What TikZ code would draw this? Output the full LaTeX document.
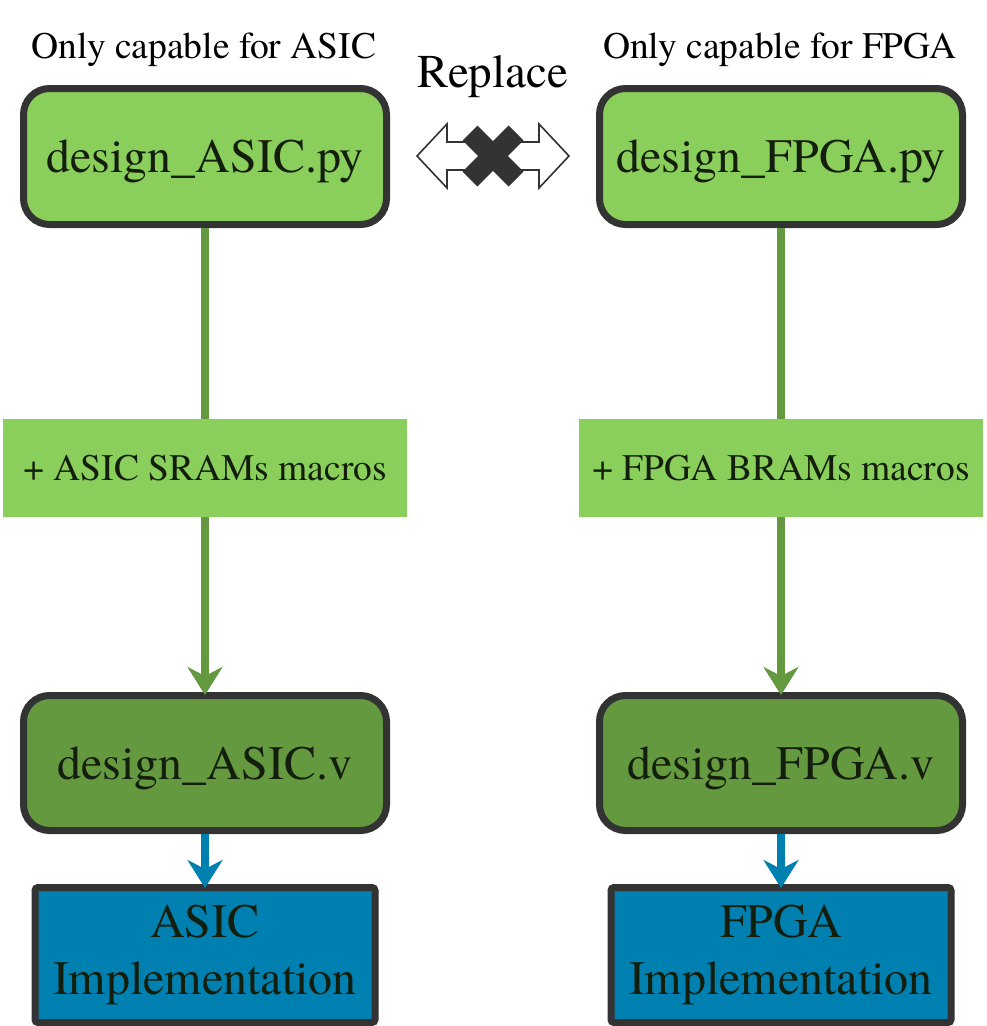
\documentclass[tikz,border=0pt]{standalone}
\usepackage{fontspec}
\setmainfont{texgyretermes-regular.otf}
\usetikzlibrary{arrows.meta,calc}
\definecolor{lgreen}{HTML}{8ACE5B}
\definecolor{dgreen}{HTML}{64993F}
\definecolor{iblue}{HTML}{0080B0}
\definecolor{border}{HTML}{333333}
\definecolor{txt}{HTML}{141E0C}
\tikzset{
  pybox/.style={draw=border, line width=7pt, fill=lgreen, rounded corners=26pt,
    minimum width=363pt, minimum height=136pt, inner sep=0pt, text=txt,
    font=\rmfamily\fontsize{48}{56}\selectfont, text height=32pt, text depth=0pt},
  vbox/.style={pybox, fill=dgreen, minimum height=135pt},
  implbox/.style={draw=border, line width=7pt, fill=iblue, rounded corners=3pt,
    minimum width=340pt, minimum height=135pt, inner sep=0pt, text=txt, align=center,
    font=\rmfamily\fontsize{48}{57}\selectfont},
  macrobox/.style={fill=lgreen, minimum width=404pt, minimum height=98pt, inner sep=0pt,
    text=txt, font=\rmfamily\fontsize{37.5}{44}\selectfont, text height=25pt, text depth=0pt},
  header/.style={anchor=base, text=black, font=\rmfamily\fontsize{37.5}{44}\selectfont},
  gline/.style={draw=dgreen, line width=8pt},
  garrow/.style={gline, -{Stealth[length=28pt, width=35pt, inset=9pt]}},
  barrow/.style={draw=iblue, line width=8pt, -{Stealth[length=28pt, width=35pt, inset=9pt]}, shorten >=-4pt},
}
\begin{document}
\begin{tikzpicture}[x=1pt, y=-1pt]
\useasboundingbox (0,0) rectangle (986,1026);
% headers
\node[header] (hA) at (204,58) {Only capable for ASIC};
\node[header] (hF) at (780,58) {Only capable for FPGA};
\node[anchor=base, font=\rmfamily\fontsize{47}{56}\selectfont, text=black] (rep) at (493,87) {Replace};
% boxes
\node[pybox] (pyA) at (205,156.5) {design\_ASIC.py};
\node[pybox] (pyF) at (781,156.5) {design\_FPGA.py};
\node[macrobox] (mA) at (205,468) {+ ASIC SRAMs macros};
\node[macrobox] (mF) at (781,468) {+ FPGA BRAMs macros};
\node[vbox] (vA) at (205,763) {design\_ASIC.v};
\node[vbox] (vF) at (781,763) {design\_FPGA.v};
\node[implbox] (iA) at (205,955) {ASIC\\Implementation};
\node[implbox] (iF) at (781,955) {FPGA\\Implementation};
% connectors
\path[gline] (pyA.south) -- (mA.north);
\path[gline] (pyF.south) -- (mF.north);
\path[garrow, shorten >=-3pt] (mA.south) -- (vA.north);
\path[garrow, shorten >=-3pt] (mF.south) -- (vF.north);
\path[barrow] (vA.south) -- (iA.north);
\path[barrow] (vF.south) -- (iF.north);
% replace double arrow with cross
\draw[border, line width=1.6pt, fill=white, line join=miter]
  (417,156) -- (447,124) -- (447,142) -- (539,142) -- (539,124) -- (569,156)
  -- (539,188) -- (539,170) -- (447,170) -- (447,188) -- cycle;
\coordinate (xc) at (493,156);
\draw[border, line width=21pt] ($(xc)+(-23,-23)$) -- ($(xc)+(23,23)$);
\draw[border, line width=21pt] ($(xc)+(-23,23)$) -- ($(xc)+(23,-23)$);
\end{tikzpicture}
\end{document}
